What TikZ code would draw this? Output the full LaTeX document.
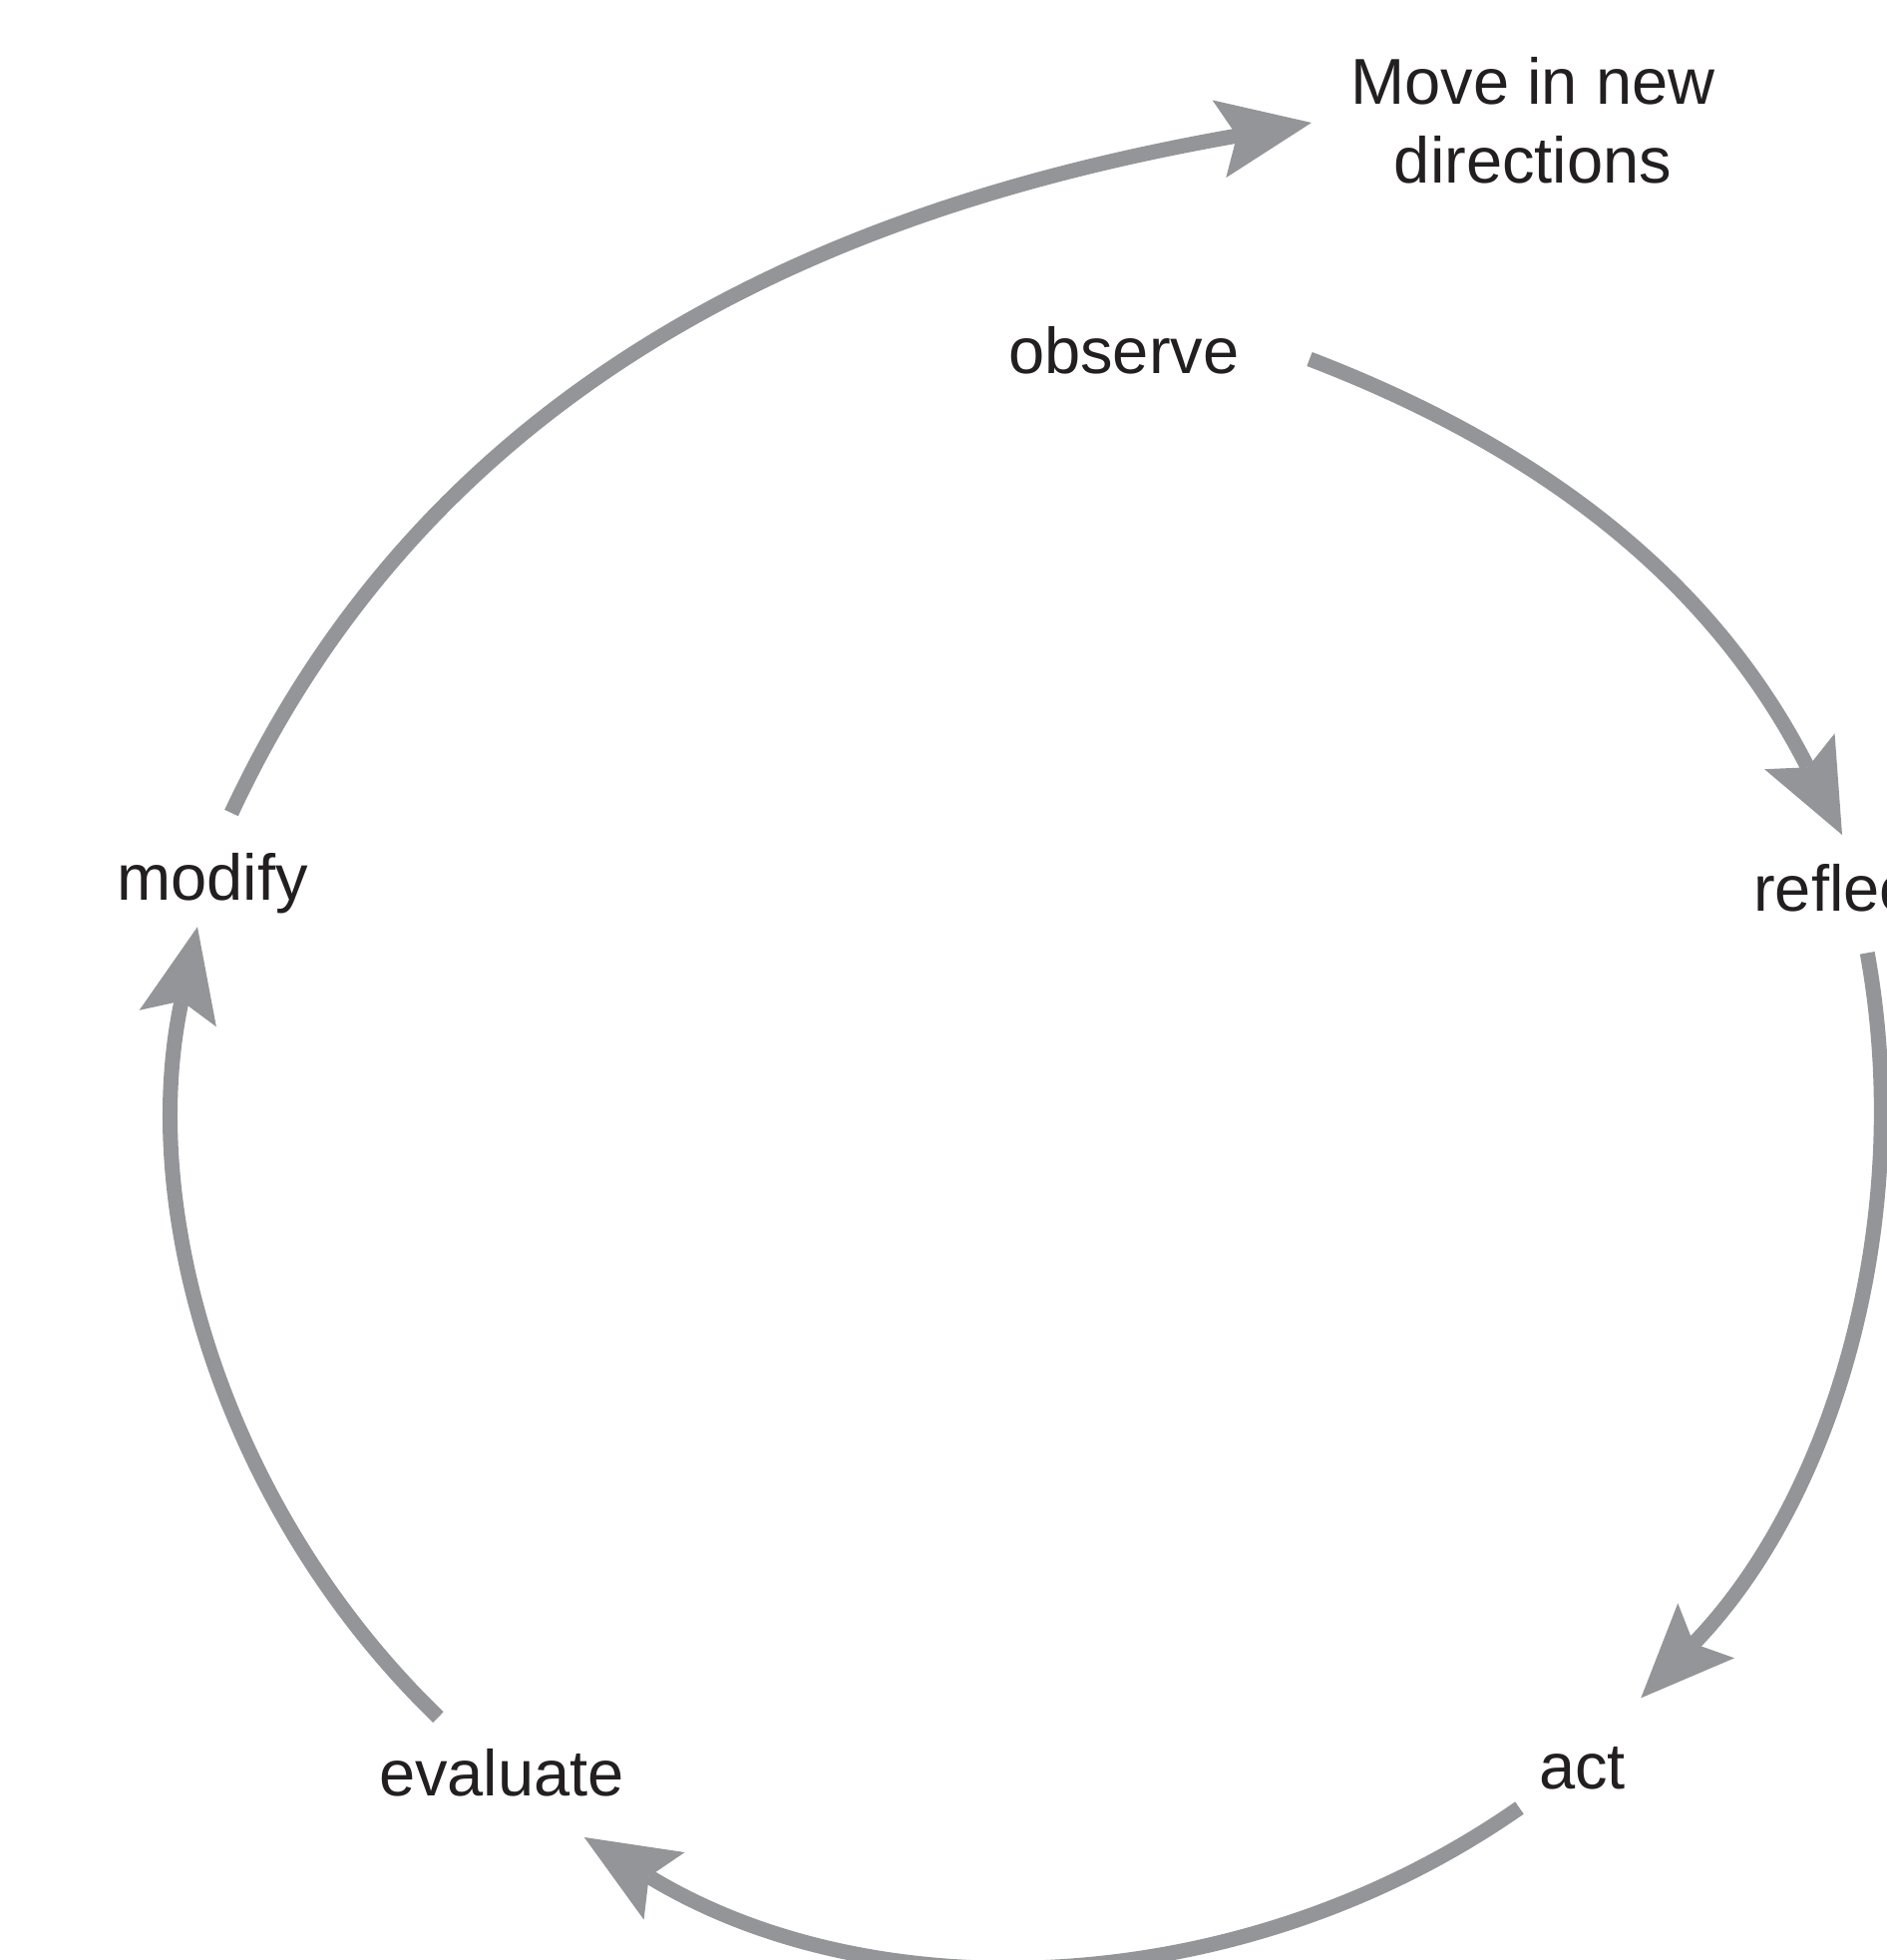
\documentclass[tikz,border=0pt]{standalone}
\usepackage{fontspec}
\setmainfont{Liberation Sans}
\usetikzlibrary{arrows.meta}
\definecolor{arrowgrey}{HTML}{949599}
\definecolor{labeltext}{HTML}{231F20}
\begin{document}
\begin{tikzpicture}[x=1pt,y=1pt,
  cyc/.style={draw=arrowgrey, line width=15pt,
    -{Stealth[length=94pt,width=79pt,inset=18pt,line width=0pt]}},
  lbl/.style={inner sep=0pt, text=labeltext,
    font=\fontsize{65pt}{79pt}\selectfont}]
\useasboundingbox (0,0) rectangle (1892,-1965);
% labels
\node[lbl, anchor=base west] (observe) at (1011,-374) {observe};
\node[lbl, anchor=base west] (reflect) at (1758,-913) {reflect};
\node[lbl, anchor=base west] (act) at (1543,-1793) {act};
\node[lbl, anchor=base west] (evaluate) at (380,-1800) {evaluate};
\node[lbl, anchor=base west] (modify) at (117,-902) {modify};
\node[lbl, anchor=north, align=center] (move) at (1537,-57.5) {Move in new\\directions};
% cycle geometry
\coordinate (c) at (1032,-1108);
\coordinate (a1s) at (1313,-360);
\coordinate (a1e) at (1847,-837);
\coordinate (a5s) at (232,-815);
\coordinate (a5e) at (1315,-123);
% arrows
\draw[cyc] (a1s) .. controls (1562.5,-455.6) and (1722.9,-593.4) .. (a1e);
\draw[cyc] (c) ++(10.3:854pt) arc[start angle=10.3, end angle=-44.1, radius=854pt];
\draw[cyc] (c) ++(-55.1:859pt) arc[start angle=-55.1, end angle=-121.3, radius=859pt];
\draw[cyc] (c) ++(-134:853pt) arc[start angle=-134, end angle=-192.1, radius=853pt];
\draw[cyc] (a5s) .. controls (447,-354) and (877,-200) .. (a5e);
\end{tikzpicture}
\end{document}
